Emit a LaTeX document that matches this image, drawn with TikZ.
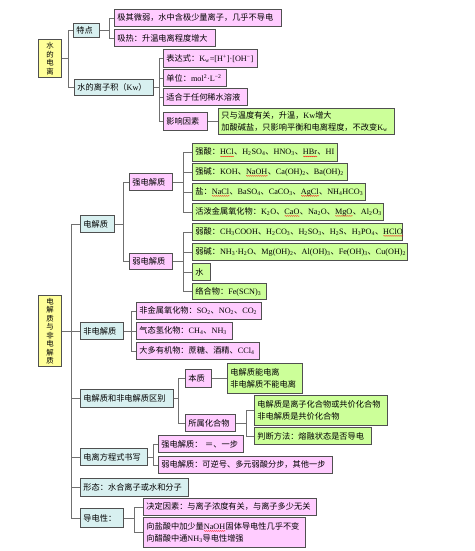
\documentclass[tikz,border=0pt]{standalone}
\usepackage{fontspec}
\setmainfont{Noto Sans CJK SC}
\newfontfamily\lat{Liberation Serif}
\newfontfamily\cjk{Noto Sans CJK SC}
\usetikzlibrary{decorations.pathmorphing}
\definecolor{cyanf}{HTML}{D8F0F0}
\definecolor{pinkf}{HTML}{FFCCFF}
\definecolor{greenf}{HTML}{CCFF99}
\definecolor{yellowf}{HTML}{FFFF99}
\definecolor{bord}{HTML}{505050}
\definecolor{linec}{HTML}{707070}
\newcommand\sub[1]{\textsubscript{#1}}
\newcommand\sups[1]{\textsuperscript{#1}}
\newcommand\dn{{\cjk 、}}
\newlength\wvlen
\newcommand\wv[1]{\settowidth\wvlen{#1}\rlap{#1}\tikz[baseline=0pt]{\draw[red,line width=0.35pt,decorate,decoration={snake,amplitude=0.4pt,segment length=2pt}] (0pt,-1.6pt) -- (\wvlen,-1.6pt);}}
\newcommand\bx[7]{\pgfmathsetmacro\tw{#5-6}\node[#1,minimum height=#6pt,text width=\tw pt] (#2) at (#3,#4) {#7};}
\tikzset{
 box/.style={draw=bord, line width=0.9pt, anchor=north west, align=left, inner xsep=3pt, inner ysep=0pt, font=\fontsize{8.2}{12}\selectfont},
 yb/.style={box, fill=yellowf, align=center, font=\fontsize{7.4}{8.5}\selectfont},
 cb/.style={box, fill=cyanf},
 pb/.style={box, fill=pinkf},
 gb/.style={box, fill=greenf},
 conn/.style={draw=linec, line width=0.8pt},
}
\begin{document}
\begin{tikzpicture}[x=1pt,y=-1pt]
\useasboundingbox[fill=white] (0,0) rectangle (474,551);
% water ionisation
\bx{yb}{sd}{38}{39}{23}{38}{水\\的\\电\\离}
\bx{cb}{td}{73}{23}{26}{14.5}{特点}
\bx{pb}{jq}{114}{9}{167}{17}{极其微弱，水中含极少量离子，几乎不导电}
\bx{pb}{xr}{114}{29}{101}{17}{吸热：升温电离程度增大}
\bx{cb}{kw}{74}{79}{79}{16}{水的离子积（{\lat Kw}）}
\bx{pb}{bds}{163}{49}{94}{18}{表达式：{\lat K\sub{w}=[H\sups{+}]·[OH\sups{−}]}}
\bx{pb}{dw}{163}{69}{63}{17}{单位：{\lat mol\sups{2}·L\sups{−2}}}
\bx{pb}{sh}{163}{88}{84}{17}{适合于任何稀水溶液}
\bx{pb}{yx}{163}{112}{44}{18}{影响因素}
\bx{gb}{yxg}{218}{108}{176}{26}{只与温度有关，升温，{\lat Kw}增大\\加酸碱盐，只影响平衡和电离程度，不改变{\lat K\sub{w}}}
% electrolytes
\bx{yb}{djz}{38}{295}{23}{71}{电\\解\\质\\与\\非\\电\\解\\质}
\bx{cb}{dj}{80}{215}{34}{17}{电解质}
\bx{pb}{qd}{129}{173}{43}{17}{强电解质}
\bx{pb}{rd}{129}{253}{43}{16}{弱电解质}
\bx{gb}{qs}{192}{143}{145}{18}{强酸：{\lat \wv{HCl}\dn H\sub{2}SO\sub{4}\dn HNO\sub{3}\dn \wv{HBr}\dn HI}}
\bx{gb}{qj}{192}{163}{155}{17}{强碱：{\lat KOH\dn \wv{NaOH}\dn Ca(OH)\sub{2}\dn Ba(OH)\sub{2}}}
\bx{gb}{yan}{192}{183}{173}{17}{盐：{\lat \wv{NaCl}\dn BaSO\sub{4}\dn CaCO\sub{3}\dn \wv{AgCl}\dn NH\sub{4}HCO\sub{3}}}
\bx{gb}{hp}{192}{203}{191}{17}{活泼金属氧化物：{\lat K\sub{2}O\dn \wv{CaO}\dn Na\sub{2}O\dn \wv{MgO}\dn Al\sub{2}O\sub{3}}}
\bx{gb}{rs}{192}{223}{210}{17}{弱酸：{\lat CH\sub{3}COOH\dn H\sub{2}CO\sub{3}\dn H\sub{2}SO\sub{3}\dn H\sub{2}S\dn H\sub{3}PO\sub{4}\dn \wv{HClO}}}
\bx{gb}{rj}{192}{243}{215}{17}{弱碱：{\lat NH\sub{3}·H\sub{2}O\dn Mg(OH)\sub{2}\dn Al(OH)\sub{3}\dn Fe(OH)\sub{3}\dn Cu(OH)\sub{2}}}
\bx{gb}{shui}{192}{263}{18}{17}{水}
\bx{gb}{lh}{192}{283}{74}{16}{络合物：{\lat Fe(SCN)\sub{3}}}
\bx{cb}{fdj}{80}{322}{43}{17}{非电解质}
\bx{pb}{fj}{136}{302}{125}{17}{非金属氧化物：{\lat SO\sub{2}\dn NO\sub{2}\dn CO\sub{2}}}
\bx{pb}{qt}{136}{322}{96}{17}{气态氢化物：{\lat CH\sub{4}\dn NH\sub{3}}}
\bx{pb}{dd}{136}{342}{123}{17}{大多有机物：蔗糖、酒精、{\lat CCl\sub{4}}}
\bx{cb}{qb}{80}{389}{93}{18}{电解质和非电解质区别}
\bx{pb}{bz}{185}{369}{26}{18}{本质}
\bx{gb}{bzg}{227}{363}{75}{30}{电解质能电离\\非电解质不能电离}
\bx{pb}{ss}{185}{414}{50}{17}{所属化合物}
\bx{gb}{ssg}{254}{395}{133}{30}{电解质是离子化合物或共价化合物\\非电解质是共价化合物}
\bx{gb}{pd}{254}{427}{117}{17}{判断方法：熔融状态是否导电}
\bx{cb}{dl}{80}{448}{67}{17}{电离方程式书写}
\bx{pb}{qdl}{158}{435}{85}{17}{强电解质：\ ＝、一步}
\bx{pb}{rdl}{158}{456}{174}{17}{弱电解质：可逆号、多元弱酸分步，其他一步}
\bx{cb}{xt}{80}{478}{108}{18}{形态：水合离子或水和分子}
\bx{cb}{ddx}{80}{508}{43}{19}{导电性：}
\bx{pb}{jd}{143}{498}{173}{17}{决定因素：与离子浓度有关，与离子多少无关}
\bx{pb}{xy}{143}{517}{162}{30}{向盐酸中加少量{\lat \wv{NaOH}}固体导电性几乎不变\\向醋酸中通{\lat NH\sub{3}}导电性增强}
% connectors
\foreach \c in {td,kw} \draw[conn] (sd.east) -- ++(6,0) |- (\c.west);
\foreach \c in {jq,xr} \draw[conn] (td.east) -- ++(9,0) |- (\c.west);
\foreach \c in {bds,dw,sh,yx} \draw[conn] (kw.east) -- ++(5,0) |- (\c.west);
\draw[conn] (yx.east) -- (yx.east -| yxg.west);
\foreach \c in {dj,fdj,qb,dl,xt,ddx} \draw[conn] (djz.east) -- ++(9,0) |- (\c.west);
\foreach \c in {qd,rd} \draw[conn] (dj.east) -- ++(8,0) |- (\c.west);
\foreach \c in {qs,qj,yan,hp} \draw[conn] (qd.east) -- ++(10,0) |- (\c.west);
\foreach \c in {rs,rj,shui,lh} \draw[conn] (rd.east) -- ++(10,0) |- (\c.west);
\foreach \c in {fj,qt,dd} \draw[conn] (fdj.east) -- ++(7,0) |- (\c.west);
\foreach \c in {bz,ss} \draw[conn] (qb.east) -- ++(4,0) |- (\c.west);
\draw[conn] (bz.east) -- (bz.east -| bzg.west);
\foreach \c in {ssg,pd} \draw[conn] (ss.east) -- ++(10,0) |- (\c.west);
\foreach \c in {qdl,rdl} \draw[conn] (dl.east) -- ++(5,0) |- (\c.west);
\foreach \c in {jd,xy} \draw[conn] (ddx.east) -- ++(10,0) |- (\c.west);
\end{tikzpicture}
\end{document}
